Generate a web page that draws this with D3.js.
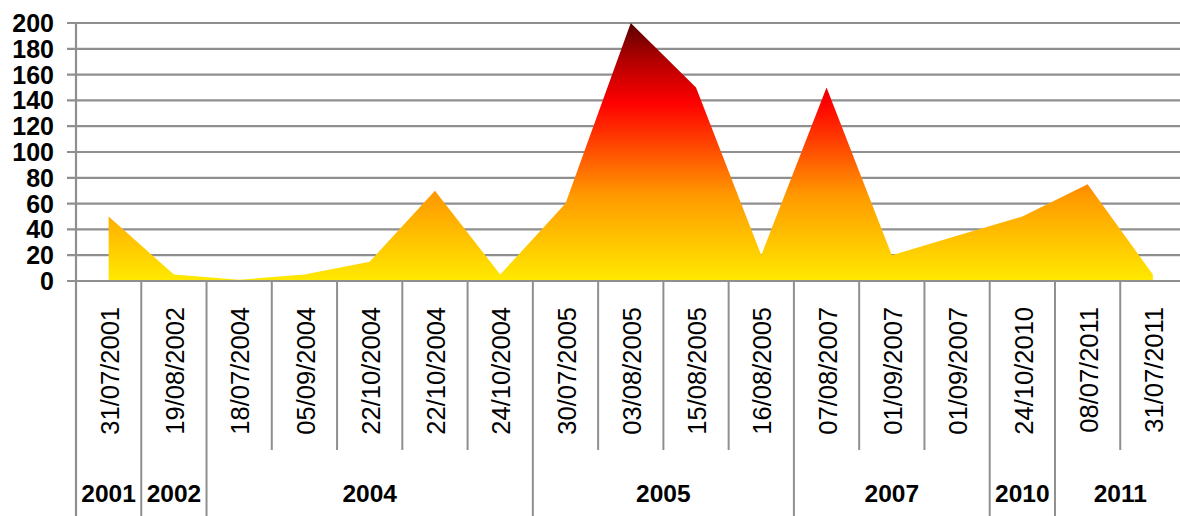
<!DOCTYPE html>
<html>
<head>
<meta charset="utf-8">
<script src="https://cdn.jsdelivr.net/npm/d3@7"></script>
<style>
  html, body { margin: 0; padding: 0; background: #fff; }
  svg { display: block; }
</style>
</head>
<body>
<svg id="chart" width="1180" height="516"></svg>
<script>
const dates = ["31/07/2001","19/08/2002","18/07/2004","05/09/2004","22/10/2004","22/10/2004","24/10/2004",
  "30/07/2005","03/08/2005","15/08/2005","16/08/2005","07/08/2007","01/09/2007","01/09/2007",
  "24/10/2010","08/07/2011","31/07/2011"];
const values = [50, 5, 1, 5, 15, 70, 5, 60, 200, 150, 20, 150, 20, 35, 50, 75, 5];
const years = ["2001","2002","2004","2005","2007","2010","2011"];
const yearCounts = [1, 1, 5, 4, 3, 1, 2];
const yTicks = [0, 20, 40, 60, 80, 100, 120, 140, 160, 180, 200];

(function () {
const svg = d3.select("#chart");
const plotLeft = 76, plotRight = 1185.5, plotTop = 23, plotBase = 281;
const idx = dates.map((d, i) => i);
const x = d3.scaleBand().domain(idx).range([plotLeft, plotRight]).padding(0);
const y = d3.scaleLinear().domain([0, 200]).range([plotBase, plotTop]);
const bw = x.bandwidth();
const cx = i => x(i) + bw / 2;
const gridColor = "#8f8f8f";

// gradient
const defs = svg.append("defs");
const grad = defs.append("linearGradient").attr("id", "fireGrad")
  .attr("gradientUnits", "userSpaceOnUse")
  .attr("x1", 0).attr("x2", 0).attr("y1", y(0)).attr("y2", y(200));
[[0, "#FFEA00"], [0.33, "#FF9A00"], [0.69, "#FF0000"], [0.86, "#B00000"], [1, "#5A0000"]]
  .forEach(([o, c]) => grad.append("stop").attr("offset", o).attr("stop-color", c));

// gridlines
svg.append("g").selectAll("line").data(yTicks).join("line")
  .attr("x1", 67).attr("x2", 1180)
  .attr("y1", d => y(d)).attr("y2", d => y(d))
  .attr("stroke", gridColor).attr("stroke-width", 2.2);

// y labels
svg.append("g").selectAll("text").data(yTicks).join("text")
  .attr("x", 54).attr("y", d => y(d)).attr("dy", "0.36em")
  .attr("text-anchor", "end")
  .attr("font-family", "Liberation Sans, Arial, sans-serif")
  .attr("font-weight", "bold").attr("font-size", 25)
  .attr("fill", "#000")
  .text(d => d);

// area
const area = d3.area().x((d, i) => cx(i)).y0(y(0)).y1(d => y(d));
svg.append("path").datum(values)
  .attr("d", area)
  .attr("fill", "url(#fireGrad)");

// axis line & y axis line
svg.append("line").attr("x1", 67).attr("x2", 1180).attr("y1", plotBase).attr("y2", plotBase)
  .attr("stroke", gridColor).attr("stroke-width", 2.2);
svg.append("line").attr("x1", plotLeft).attr("x2", plotLeft).attr("y1", plotTop).attr("y2", 516)
  .attr("stroke", gridColor).attr("stroke-width", 2.2);

// category separators
const groupStarts = [];
let acc = 0;
yearCounts.forEach(c => { groupStarts.push(acc); acc += c; });
const sepIdx = d3.range(1, dates.length + 1);
svg.append("g").selectAll("line").data(sepIdx).join("line")
  .attr("x1", i => i < dates.length ? x(i) : plotRight)
  .attr("x2", i => i < dates.length ? x(i) : plotRight)
  .attr("y1", plotBase)
  .attr("y2", i => groupStarts.includes(i) || i === dates.length ? 516 : 450)
  .attr("stroke", gridColor).attr("stroke-width", 2);

// date labels
svg.append("g").selectAll("text").data(dates).join("text")
  .attr("transform", (d, i) => `translate(${cx(i) + 1},307) rotate(-90)`)
  .attr("dy", "0.36em")
  .attr("text-anchor", "end")
  .attr("font-family", "Liberation Sans, Arial, sans-serif")
  .attr("font-size", 25.5)
  .attr("fill", "#000")
  .text(d => d);

// year labels
svg.append("g").selectAll("text").data(years).join("text")
  .attr("x", (d, k) => {
    const s = groupStarts[k], e = s + yearCounts[k];
    const x0 = x(s), x1 = e < dates.length ? x(e) : plotRight;
    return (x0 + x1) / 2;
  })
  .attr("y", 493).attr("dy", "0.36em")
  .attr("text-anchor", "middle")
  .attr("font-family", "Liberation Sans, Arial, sans-serif")
  .attr("font-weight", "bold").attr("font-size", 24.5)
  .attr("fill", "#000")
  .text(d => d);
})();
</script>
</body>
</html>
